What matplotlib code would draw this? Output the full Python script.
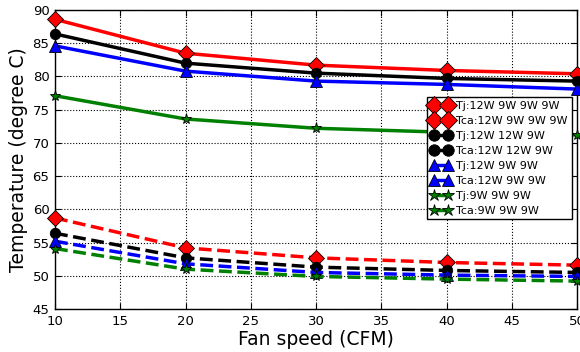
import matplotlib
matplotlib.use("Agg")
import matplotlib.pyplot as plt

fan_speed = [10, 20, 30, 40, 50]
tj_12_9_9_9 = [88.6, 83.5, 81.7, 80.9, 80.4]
tca_12_9_9_9 = [58.7, 54.2, 52.7, 52.0, 51.6]
tj_12_12_9 = [86.4, 82.0, 80.5, 79.7, 79.3]
tca_12_12_9 = [56.4, 52.7, 51.3, 50.8, 50.5]
tj_12_9_9 = [84.6, 80.8, 79.3, 78.8, 78.1]
tca_12_9_9 = [55.2, 51.8, 50.5, 50.1, 49.9]
tj_9_9_9 = [77.1, 73.6, 72.2, 71.6, 71.2]
tca_9_9_9 = [54.1, 51.0, 49.9, 49.5, 49.2]

labels = ["Tj:12W 9W 9W 9W", "Tca:12W 9W 9W 9W", "Tj:12W 12W 9W", "Tca:12W 12W 9W",
          "Tj:12W 9W 9W", "Tca:12W 9W 9W", "Tj:9W 9W 9W", "Tca:9W 9W 9W"]

fig = plt.figure(figsize=(5.8, 3.52), dpi=100)
ax = fig.add_axes([55/580, 1-309/352, 522/580, 299/352])

series = [
    (tj_12_9_9_9, 'red', 'D', '-', 8),
    (tca_12_9_9_9, 'red', 'D', '--', 8),
    (tj_12_12_9, 'black', 'o', '-', 7.5),
    (tca_12_12_9, 'black', 'o', '--', 7.5),
    (tj_12_9_9, 'blue', '^', '-', 8),
    (tca_12_9_9, 'blue', '^', '--', 8),
    (tj_9_9_9, 'green', '*', '-', 8),
    (tca_9_9_9, 'green', '*', '--', 8),
]
for (vals, c, m, ls, ms), lab in zip(series, labels):
    ax.plot(fan_speed, vals, color=c, linestyle=ls, linewidth=2.5, marker=m,
            markersize=ms, markerfacecolor=c, markeredgecolor='black',
            markeredgewidth=0.6, label=lab, clip_on=False, zorder=3)

ax.set_xlim(10, 50)
ax.set_ylim(45, 90)
ax.set_xticks(range(10, 51, 5))
ax.set_yticks(range(45, 91, 5))
ax.grid(True, linestyle=':', color='black', linewidth=0.8)
ax.tick_params(direction='in', labelsize=9.5, length=4, top=True, right=True, pad=4)
for s in ax.spines.values():
    s.set_linewidth(1.0)
ax.set_xlabel("Fan speed (CFM)", fontsize=13.5, labelpad=2)
ax.set_ylabel("Temperature (degree C)", fontsize=13.5, labelpad=3)
leg = ax.legend(loc='upper right', bbox_to_anchor=(0.99, 0.71), borderaxespad=0,
                fontsize=8, numpoints=2, fancybox=False, framealpha=1,
                handlelength=1.8, labelspacing=0.45, borderpad=0.35,
                handletextpad=0.5, markerscale=1.1)
leg.get_frame().set_edgecolor('black')
leg.set_zorder(5)

fig.savefig("out.png", dpi=100)
